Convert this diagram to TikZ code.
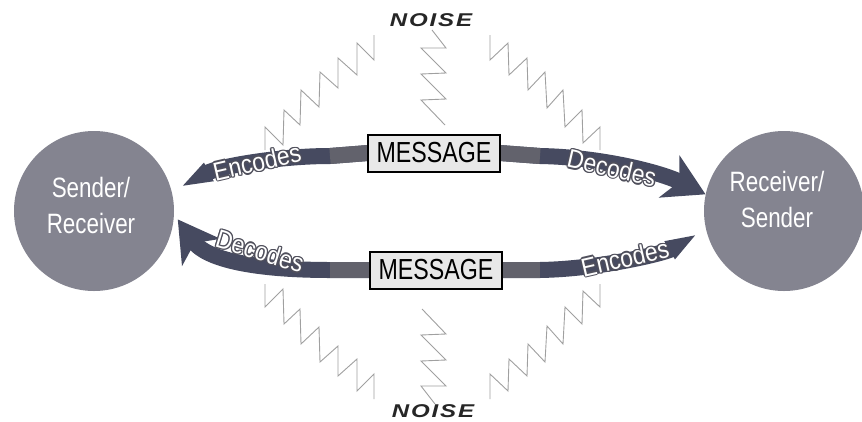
\documentclass[tikz,border=0pt]{standalone}
\usepackage{fontspec}
\setmainfont{Liberation Sans}
\newfontfamily\narrowf[FakeStretch=0.8]{Liberation Sans}
\newfontfamily\verbf[FakeStretch=0.88]{Liberation Sans}
\newfontfamily\noisef[FakeStretch=1.3,LetterSpace=10]{Liberation Sans}
\usetikzlibrary{arrows.meta,calc}
\pgfdeclarelayer{bg}
\pgfdeclarelayer{paper}
\pgfsetlayers{paper,bg,main}
\definecolor{band}{RGB}{70,74,96}
\definecolor{bandmid}{RGB}{98,98,108}
\definecolor{circ}{RGB}{132,132,144}
\definecolor{noisec}{RGB}{160,160,160}
\definecolor{boxfill}{RGB}{232,232,232}
\definecolor{outc}{RGB}{80,80,92}
\tikzset{
  party/.style={circle, fill=circ, minimum size=160pt, inner sep=0pt},
  partytext/.style={text=white, align=center, inner sep=0pt, font=\narrowf\fontsize{28}{36}\selectfont},
  msgbox/.style={draw=black, line width=2pt, fill=boxfill, minimum width=132pt, minimum height=37pt, inner sep=0pt, font=\narrowf\fontsize{29}{30}\selectfont},
  noiselbl/.style={font=\noisef\bfseries\itshape\fontsize{18.5}{20}\selectfont, text=black!85, inner sep=0pt},
  zig/.style={draw=noisec, line width=0.9pt, line join=miter},
  flow/.style={draw=band, line width=16pt},
  flowmid/.style={draw=bandmid, line width=16pt},
  verb/.style={font=\verbf\fontsize{26}{28}\selectfont, inner sep=0pt},
  tailtip/.style={{Triangle[width=16pt,length=42pt]}-},
  headtip/.style={-{Stealth[length=40pt,width=46pt,inset=11pt]}},
}
\newcommand\vtext[4]{%
  \foreach \a in {0,45,...,315}{\node[verb,text=outc,rotate=#3] at ($(#2)+(\a:1.3pt)$) {#4};}
  \node[verb,text=white,rotate=#3] (#1) at (#2) {#4};}
\begin{document}
\begin{tikzpicture}[x=1pt,y=-1pt]
\begin{pgfonlayer}{paper}
\fill[white] (0,0) rectangle (862,421);
\end{pgfonlayer}
\useasboundingbox (0,0) rectangle (862,421);

% parties
\node[party] (L) at (94,211) {};
\node[party] (R) at (784,211) {};
\node[partytext] (Lt) at (91,205) {Sender/\\Receiver};
\node[partytext] (Rt) at (777,199) {Receiver/\\Sender};

% named points
\coordinate (mtw) at (368,153);
\coordinate (mte) at (500,153);
\coordinate (mbw) at (370,270);
\coordinate (mbe) at (502,270);
\coordinate (tl) at (L.14);
\coordinate (tr) at (R.168);
\coordinate (br) at (R.193);
\coordinate (bl) at ([xshift=4pt]L.-6);
\coordinate (a1) at (330,156);
\coordinate (a2) at (540,156);
\coordinate (a3) at (540,270);
\coordinate (a4) at (330,270);

\begin{pgfonlayer}{bg}
% noise zigzags
\draw[zig] (265,150)--(265,127)--(283,145)--(284,110)--(300,125)--(301,90)--(319,107)--(320,72)--(338,88)--(338,58)--(357,75)--(357,43)--(374,60)--(374,35);
\draw[zig] (490,35)--(490,60)--(508,43)--(509,75)--(527,58)--(528,90)--(545,72)--(547,108)--(563,90)--(565,127)--(582,110)--(583,143)--(600,127)--(600,150);
\draw[zig] (432,30)--(446,48)--(421,48)--(446,73)--(421,74)--(446,99)--(421,100)--(445,125);
\draw[zig] (265,284)--(265,307)--(283,289)--(284,324)--(300,309)--(301,344)--(319,327)--(320,362)--(338,346)--(338,376)--(357,359)--(357,391)--(374,374)--(374,399);
\draw[zig] (490,399)--(490,374)--(508,391)--(509,359)--(527,376)--(528,344)--(545,362)--(547,326)--(563,344)--(565,307)--(582,324)--(583,291)--(600,307)--(600,284);
\draw[zig] (435,404)--(421,386)--(446,386)--(421,361)--(446,360)--(421,335)--(446,334)--(422,309);

% flows
\draw[flow,tailtip] (tl) .. controls (220,166) and (280,156) .. (a1) -- (mtw);
\draw[flowmid] (a1) -- (mtw);
\draw[flow,headtip] (mte) -- (a2) .. controls (600,157) and (660,172) .. (tr);
\draw[flowmid] (mte) -- (a2);
\draw[flow,tailtip] (br) .. controls (665,253) and (600,269) .. (a3) -- (mbe);
\draw[flowmid] (a3) -- (mbe);
\draw[flow,headtip] (mbw) -- (a4) .. controls (265,270) and (208,262) .. (bl);
\draw[flowmid] (mbw) -- (a4);
\end{pgfonlayer}

% message boxes
\node[msgbox] (mt) at (434,153) {MESSAGE};
\node[msgbox] (mb) at (436,270) {MESSAGE};

% noise labels
\node[noiselbl] (nt) at (431,20) {NOISE};
\node[noiselbl] (nb) at (433,411) {NOISE};

% verbs
\vtext{e1}{257,162}{13}{Encodes}
\vtext{d1}{612,168}{-13}{Decodes}
\vtext{d2}{260,251}{-17}{Decodes}
\vtext{e2}{625,258}{13}{Encodes}
\end{tikzpicture}
\end{document}
